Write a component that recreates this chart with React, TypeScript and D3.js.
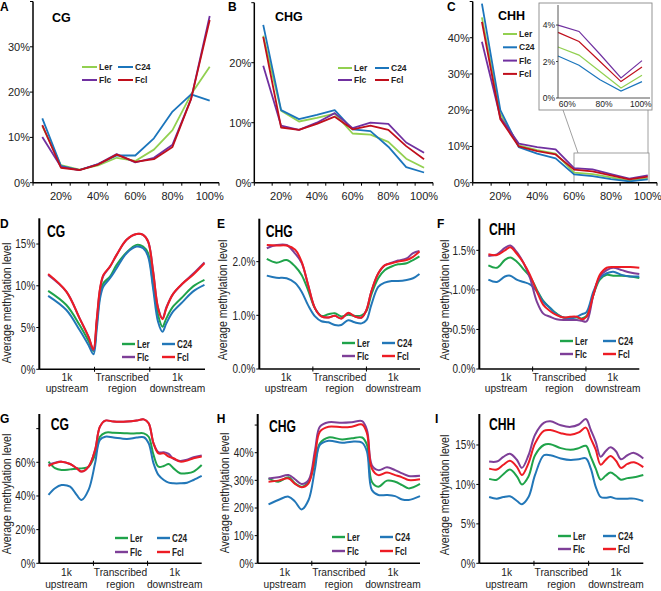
import React from "react";
import * as d3 from "d3";

const FONT = "'Liberation Sans', Arial, Helvetica, sans-serif";

const seriesNames = ["Ler", "C24", "Flc", "Fcl"];
const topColors = ["#92d050", "#1b75bc", "#7030a0", "#c00f1c"];
const profileColors = ["#1fa34a", "#2277b8", "#7e3f98", "#ed1c24"];

const contextCats = ["10%", "20%", "30%", "40%", "50%", "60%", "70%", "80%", "90%", "100%"];
const contextTickLabels = ["20%", "40%", "60%", "80%", "100%"];
const insetCats = ["60%", "70%", "80%", "90%", "100%"];
const insetTickLabels = ["60%", "80%", "100%"];
const regionTop = ["1k", "Transcribed", "1k"];
const regionBottom = ["upstream", "region", "downstream"];

// Panel A (CG, percentile of methylation)
const aLer = [12.5, 3.9, 2.9, 3.8, 5.5, 4.8, 7.3, 11.6, 19.5, 25.6];
const aC24 = [14.2, 3.7, 2.8, 4.1, 6.0, 6.0, 9.8, 15.7, 19.5, 18.1];
const aFlc = [10.1, 3.5, 2.8, 4.1, 6.3, 4.5, 5.5, 8.4, 18.5, 36.8];
const aFcl = [12.7, 3.3, 2.8, 4.0, 6.2, 4.6, 5.2, 7.9, 18.5, 35.9];

// Panel B (CHG)
const bLer = [24.5, 12.0, 10.2, 10.8, 11.5, 8.2, 8.0, 6.8, 4.0, 2.5];
const bC24 = [26.3, 12.1, 10.6, 11.3, 12.1, 8.9, 8.6, 6.0, 2.6, 1.7];
const bFlc = [19.5, 9.5, 8.8, 10.0, 11.6, 9.1, 10.0, 9.8, 6.7, 5.0];
const bFcl = [24.3, 9.2, 8.8, 9.8, 11.0, 8.9, 9.5, 8.8, 6.1, 3.9];

// Panel C (CHH)
const cLer = [45.6, 19.0, 10.3, 9.0, 8.0, 2.8, 2.35, 1.45, 0.55, 1.25];
const cC24 = [49.4, 20.0, 9.8, 8.0, 6.7, 2.3, 1.8, 1.0, 0.38, 0.9];
const cFlc = [38.9, 18.0, 10.8, 9.8, 9.2, 4.0, 3.65, 2.4, 1.1, 2.05];
const cFcl = [44.4, 17.5, 10.0, 8.7, 7.8, 3.6, 3.1, 2.0, 0.9, 1.7];

// Panel D (CG profile), positions in region units (0-1 upstream, 1-2 gene, 2-3 downstream)
const dPos = [0.16, 0.49, 0.73, 0.89, 0.98, 1.04, 1.1, 1.16, 1.28, 1.4, 1.58, 1.76, 1.88, 1.97, 2.06, 2.15, 2.23, 2.3, 2.42, 2.6, 2.78, 2.99];
const dLer = [9.4, 7.7, 5.3, 3.4, 2.2, 5.4, 8.9, 10.3, 11.1, 12.5, 14.0, 14.9, 14.7, 13.9, 10.1, 6.5, 5.1, 6.1, 7.5, 8.7, 9.9, 10.7];
const dC24 = [8.8, 7.1, 4.7, 2.9, 1.8, 4.8, 8.5, 9.9, 10.9, 12.1, 13.9, 14.7, 14.5, 13.5, 9.7, 5.7, 4.5, 5.5, 6.9, 8.1, 9.3, 10.1];
const dFlc = [11.3, 9.3, 6.1, 3.9, 2.3, 5.8, 9.6, 11.2, 12.3, 13.7, 15.5, 16.2, 16.1, 15.3, 11.8, 7.4, 6.1, 7.4, 9.0, 10.3, 11.4, 12.8];
const dFcl = [11.4, 9.3, 6.1, 3.9, 2.4, 6.0, 9.7, 11.3, 12.3, 13.7, 15.5, 16.2, 16.1, 15.3, 11.7, 7.3, 6.0, 7.3, 9.0, 10.3, 11.3, 12.7];

// Panel E (CHG profile)
const ePos = [0.14, 0.32, 0.51, 0.67, 0.79, 0.91, 1.04, 1.16, 1.29, 1.41, 1.53, 1.66, 1.78, 1.91, 2.0, 2.09, 2.22, 2.34, 2.47, 2.59, 2.75, 2.87, 2.99];
const eLer = [2.05, 1.98, 2.03, 1.91, 1.75, 1.47, 1.13, 0.99, 1.02, 1.04, 0.98, 1.01, 0.99, 1.0, 1.08, 1.38, 1.69, 1.84, 1.91, 1.95, 1.97, 2.03, 2.1];
const eC24 = [1.74, 1.7, 1.69, 1.6, 1.44, 1.19, 0.98, 0.89, 0.87, 0.82, 0.82, 0.91, 0.87, 0.85, 0.91, 1.19, 1.53, 1.61, 1.64, 1.64, 1.66, 1.69, 1.77];
const eFlc = [2.25, 2.31, 2.31, 2.15, 1.98, 1.57, 1.13, 0.98, 0.96, 0.99, 0.94, 1.04, 0.98, 0.96, 1.1, 1.44, 1.78, 1.93, 1.98, 2.02, 2.06, 2.16, 2.2];
const eFcl = [2.31, 2.3, 2.3, 2.22, 2.0, 1.57, 1.13, 0.98, 0.96, 0.99, 0.94, 1.05, 0.98, 0.96, 1.1, 1.44, 1.78, 1.93, 1.97, 2.0, 2.03, 2.09, 2.19];

// Panel F (CHH profile)
const fPos = [0.17, 0.33, 0.48, 0.58, 0.7, 0.83, 0.95, 1.08, 1.2, 1.33, 1.45, 1.58, 1.7, 1.83, 1.92, 2.01, 2.14, 2.26, 2.39, 2.51, 2.67, 2.83, 3.0];
const fLer = [1.31, 1.28, 1.38, 1.41, 1.36, 1.26, 1.17, 1.0, 0.86, 0.77, 0.7, 0.65, 0.65, 0.65, 0.64, 0.67, 0.94, 1.13, 1.19, 1.18, 1.18, 1.17, 1.15];
const fC24 = [1.13, 1.1, 1.17, 1.18, 1.13, 1.1, 1.07, 0.98, 0.85, 0.77, 0.69, 0.65, 0.64, 0.66, 0.69, 0.72, 0.98, 1.15, 1.21, 1.23, 1.19, 1.17, 1.17];
const fFlc = [1.43, 1.45, 1.53, 1.56, 1.48, 1.34, 1.15, 0.85, 0.7, 0.66, 0.63, 0.62, 0.62, 0.62, 0.61, 0.6, 0.94, 1.17, 1.25, 1.28, 1.25, 1.22, 1.2];
const fFcl = [1.45, 1.44, 1.5, 1.54, 1.46, 1.34, 1.19, 0.98, 0.81, 0.73, 0.68, 0.65, 0.66, 0.66, 0.63, 0.66, 0.94, 1.19, 1.28, 1.29, 1.29, 1.29, 1.28];

// Panel G (CG profile, methylated genes)
const gPos = [0.17, 0.29, 0.41, 0.57, 0.69, 0.78, 0.91, 1.03, 1.12, 1.22, 1.37, 1.62, 1.8, 1.93, 2.02, 2.11, 2.2, 2.3, 2.39, 2.48, 2.6, 2.73, 2.85, 3.0];
const gLer = [60.4, 56.5, 55.4, 55.8, 56.2, 56.4, 57.4, 64.4, 75.2, 77.6, 77.6, 77.2, 77.2, 77.2, 75.2, 64.4, 57.4, 57.8, 59.0, 56.4, 53.5, 53.5, 54.5, 58.4];
const gC24 = [40.6, 44.6, 46.5, 45.5, 40.6, 37.6, 43.6, 59.4, 73.3, 75.2, 74.7, 73.9, 74.7, 74.9, 71.3, 59.4, 52.5, 49.5, 47.9, 47.5, 47.5, 47.9, 49.5, 51.9];
const gFlc = [58.5, 59.8, 60.4, 59.0, 56.5, 54.5, 57.4, 67.3, 81.2, 84.8, 84.2, 84.2, 84.8, 85.5, 83.2, 71.3, 66.0, 66.0, 65.0, 62.0, 60.8, 61.5, 63.0, 64.0];
const gFcl = [57.8, 59.5, 60.4, 59.0, 56.5, 54.5, 57.4, 67.3, 81.2, 84.8, 84.2, 84.2, 84.8, 85.5, 83.2, 71.3, 65.3, 65.3, 63.4, 62.4, 60.4, 61.0, 62.4, 63.4];

// Panel H (CHG profile, methylated genes)
const hPos = [0.2, 0.38, 0.57, 0.69, 0.81, 0.94, 1.06, 1.15, 1.31, 1.56, 1.74, 1.93, 2.02, 2.11, 2.23, 2.39, 2.54, 2.67, 2.79, 3.0];
const hLer = [30.7, 29.5, 31.1, 28.9, 27.7, 29.5, 36.7, 43.4, 45.5, 44.8, 45.2, 45.5, 42.8, 29.5, 27.7, 29.9, 29.5, 28.3, 27.1, 28.7];
const hC24 = [21.3, 22.9, 24.1, 22.3, 19.5, 22.9, 34.3, 42.8, 44.3, 43.6, 44.0, 43.6, 40.4, 26.5, 24.7, 24.7, 24.3, 23.1, 22.9, 24.3];
const hFlc = [30.7, 31.1, 31.9, 30.4, 28.7, 30.1, 41.0, 49.4, 51.0, 50.8, 51.0, 51.4, 48.2, 35.5, 33.7, 34.7, 33.7, 32.5, 31.6, 31.7];
const hFcl = [29.5, 29.9, 30.7, 28.7, 27.5, 28.9, 39.2, 47.6, 49.4, 49.2, 49.4, 50.2, 47.0, 34.3, 31.9, 32.8, 31.9, 31.1, 30.1, 30.4];

// Panel I (CHH profile, methylated genes)
const iPos = [0.18, 0.32, 0.44, 0.56, 0.69, 0.78, 0.9, 1.02, 1.18, 1.3, 1.49, 1.67, 1.82, 1.95, 2.04, 2.13, 2.22, 2.31, 2.4, 2.5, 2.59, 2.71, 2.83, 3.0];
const iLer = [10.7, 10.6, 11.3, 11.9, 11.0, 10.0, 11.0, 13.7, 15.0, 15.1, 14.6, 14.4, 14.6, 14.9, 13.5, 12.0, 10.6, 11.1, 11.5, 11.1, 10.6, 10.8, 10.9, 11.2];
const iC24 = [8.4, 8.2, 8.4, 8.5, 7.9, 7.5, 8.4, 11.2, 13.7, 13.7, 13.3, 13.1, 13.2, 13.3, 12.0, 9.7, 8.4, 8.3, 8.4, 8.2, 8.2, 8.2, 8.2, 7.9];
const iFlc = [12.9, 12.9, 13.5, 13.9, 13.1, 12.1, 13.7, 16.3, 17.8, 18.0, 17.5, 17.3, 17.6, 18.3, 16.9, 15.4, 13.5, 14.2, 14.7, 14.2, 13.2, 13.7, 14.0, 13.3];
const iFcl = [12.0, 11.9, 12.5, 13.0, 12.2, 11.2, 12.7, 15.2, 16.8, 16.9, 16.5, 16.3, 16.6, 17.2, 15.8, 14.4, 12.5, 13.1, 13.6, 13.0, 12.1, 12.6, 12.8, 12.2];

const SQ = 0.8;

function Legend({ x, y, dx, dy, colors, len, sw, fs, squeeze, column }: any) {
  return (
    <g>
      {seriesNames.map((n, i) => {
        const col = column ? 0 : i % 2;
        const row = column ? i : Math.floor(i / 2);
        const lx = x + col * dx;
        const ly = y + row * dy;
        return (
          <g key={n}>
            <line x1={lx} x2={lx + len} y1={ly} y2={ly} stroke={colors[i]} strokeWidth={sw} />
            <text
              transform={`translate(${lx + len + 2},${ly}) scale(${squeeze},1)`}
              dy="0.35em"
              fontSize={fs}
              fontWeight="bold"
              fill="#222"
            >
              {n}
            </text>
          </g>
        );
      })}
    </g>
  );
}

function TopPanel(p: any) {
  const { letter, letterX, title, titleX, titleY, x0, x1, yMax, yTopPx, yTicks, yLabeled, series, children } = p;
  const y0 = 182.7;
  const x = d3.scaleBand<string>().domain(contextCats).range([x0, x1]);
  const bw = x.bandwidth();
  const y = d3.scaleLinear().domain([0, yMax]).range([y0, yTopPx]);
  const line = d3
    .line<number>()
    .x((_, i) => (x(contextCats[i]) as number) + bw / 2)
    .y((d) => y(d));
  return (
    <g>
      <text x={letterX} y={11} fontSize={12} fontWeight="bold">{letter}</text>
      <text x={titleX} y={titleY} fontSize={12.5} fontWeight="bold">{title}</text>
      {d3.range(contextCats.length + 1).map((i) => (
        <line key={"xt" + i} x1={x0 + i * x.step()} x2={x0 + i * x.step()} y1={y0} y2={y0 + 3} stroke="#000" strokeWidth={1} />
      ))}
      {contextTickLabels.map((l) => (
        <text key={l} x={(x(l) as number) + bw / 2} y={200} textAnchor="middle" fontSize={11} fill="#222">{l}</text>
      ))}
      {yTicks.map((t: number) => (
        <line key={"yt" + t} x1={x0 - 3} x2={x0} y1={y(t)} y2={y(t)} stroke="#000" strokeWidth={1} />
      ))}
      {yLabeled.map((t: number) => (
        <text key={"yl" + t} x={x0 - 3} y={y(t)} dy="0.35em" textAnchor="end" fontSize={11} fill="#222">{t}%</text>
      ))}
      {children}
      {series.map((s: number[], i: number) => (
        <path key={i} d={line(s) as string} fill="none" stroke={topColors[i]} strokeWidth={1.8} strokeLinejoin="round" />
      ))}
      <line x1={x0} x2={x0} y1={y0} y2={yTopPx} stroke="#000" strokeWidth={1.5} />
      <line x1={x0} x2={x1} y1={y0} y2={y0} stroke="#000" strokeWidth={1.5} />
      {p.legend}
    </g>
  );
}

function Inset() {
  const bx0 = 558, bx1 = 650, by0 = 98, byTop = 5;
  const xb = d3.scaleBand<string>().domain(insetCats).range([bx0, bx1]);
  const xp = d3.scalePoint<string>().domain(insetCats).range([bx0, 642]);
  const y = d3.scaleLinear().domain([0, 5.1]).range([by0, byTop]);
  const series = [cLer, cC24, cFlc, cFcl].map((s) => s.slice(5));
  const line = d3
    .line<number>()
    .x((_, i) => xp(insetCats[i]) as number)
    .y((d) => y(d));
  return (
    <g>
      <line x1={563} y1={110} x2={578} y2={153} stroke="#888" strokeWidth={0.8} />
      <line x1={648} y1={110} x2={648} y2={153} stroke="#888" strokeWidth={0.8} />
      <rect x={574} y={153} width={75} height={29.5} fill="none" stroke="#888" strokeWidth={0.8} />
      <rect x={539} y={3} width={113} height={107} fill="#fff" stroke="#888" strokeWidth={0.9} />
      {[0, 2, 4].map((t) => (
        <g key={t}>
          <line x1={bx0 - 2} x2={bx0} y1={y(t)} y2={y(t)} stroke="#444" />
          <text x={bx0 - 3} y={y(t)} dy="0.35em" textAnchor="end" fontSize={8.5} fill="#222">{t}%</text>
        </g>
      ))}
      {insetTickLabels.map((l) => (
        <text key={l} x={(xb(l) as number) + xb.bandwidth() / 2} y={107} textAnchor="middle" fontSize={8.5} fill="#222">{l}</text>
      ))}
      {series.map((s, i) => (
        <path key={i} d={line(s) as string} fill="none" stroke={topColors[i]} strokeWidth={1.2} />
      ))}
      <line x1={bx0} x2={bx0} y1={by0} y2={byTop} stroke="#444" strokeWidth={0.9} />
      <line x1={bx0} x2={bx1} y1={by0} y2={by0} stroke="#444" strokeWidth={0.9} />
    </g>
  );
}

function ProfilePanel(p: any) {
  const {
    letter, letterX, letterY, title, titleX, titleY, x0, x1, y0, yTop, yMax, yTicks, fmt, extraTicks,
    pos, series, legend, yTitleX, yTitleY, labY1,
  } = p;
  const x = d3.scaleLinear().domain([0, 3]).range([x0, x1]);
  const y = d3.scaleLinear().domain([0, yMax]).range([y0, yTop]);
  const line = d3
    .line<number>()
    .x((_, i) => x(pos[i]))
    .y((d) => y(d))
    .curve(d3.curveCatmullRom.alpha(0.5));
  return (
    <g>
      <text x={letterX} y={letterY} fontSize={12} fontWeight="bold">{letter}</text>
      <text transform={`translate(${titleX},${titleY}) scale(0.76,1)`} fontSize={16} fontWeight="bold">{title}</text>
      <text
        transform={`translate(${yTitleX},${yTitleY}) rotate(-90) scale(0.88,1)`}
        textAnchor="middle"
        dy="0.35em"
        fontSize={12}
        fill="#222"
      >
        Average methylation level
      </text>
      {yTicks.concat(extraTicks || []).map((t: number) => (
        <line key={"yt" + t} x1={x0 - 3} x2={x0} y1={y(t)} y2={y(t)} stroke="#000" strokeWidth={1} />
      ))}
      {yTicks.map((t: number) => (
        <text
          key={"yl" + t}
          transform={`translate(${x0 - 4},${y(t)}) scale(${SQ},1)`}
          dy="0.35em"
          textAnchor="end"
          fontSize={12.5}
          fill="#222"
        >
          {fmt(t)}
        </text>
      ))}
      {[1, 2].map((u) => (
        <line key={"xt" + u} x1={x(u)} x2={x(u)} y1={y0 - 2.5} y2={y0 + 2.5} stroke="#000" strokeWidth={1} />
      ))}
      {regionTop.map((l, i) => (
        <g key={"rl" + i}>
          <text x={x(i + 0.5)} y={labY1} textAnchor="middle" fontSize={10.2} fill="#222">{l}</text>
          <text x={x(i + 0.5)} y={labY1 + 11.6} textAnchor="middle" fontSize={10.2} fill="#222">{regionBottom[i]}</text>
        </g>
      ))}
      {series.map((s: number[], i: number) => (
        <path key={i} d={line(s) as string} fill="none" stroke={profileColors[i]} strokeWidth={2} strokeLinejoin="round" />
      ))}
      <line x1={x0} x2={x0} y1={y0} y2={yTop} stroke="#000" strokeWidth={2} />
      <line x1={x0} x2={x1} y1={y0} y2={y0} stroke="#000" strokeWidth={1.6} />
      {legend}
    </g>
  );
}

const pct = (t: number) => `${t}%`;
const pct1 = (t: number) => `${t.toFixed(1)}%`;

function ProfileLegend({ x, y, dx, dy }: any) {
  return <Legend x={x} y={y} dx={dx} dy={dy} colors={profileColors} len={13} sw={2.4} fs={10} squeeze={0.82} />;
}

export default function App() {
  return (
    <svg
      width={661}
      height={591}
      style={{ position: "absolute", left: 0, top: 0, background: "#fff" }}
      fontFamily={FONT}
    >
      <rect width={661} height={591} fill="#fff" />
      <TopPanel
        letter="A" letterX={0} title="CG" titleX={52} titleY={22}
        x0={33} x1={219} yMax={40} yTopPx={1.5}
        yTicks={[0, 10, 20, 30, 40]} yLabeled={[0, 10, 20, 30]}
        series={[aLer, aC24, aFlc, aFcl]}
        legend={<Legend x={82} y={67} dx={36} dy={13} colors={topColors} len={15} sw={2} fs={8.5} squeeze={1} />}
      />
      <TopPanel
        letter="B" letterX={228} title="CHG" titleX={275} titleY={21}
        x0={254.3} x1={433} yMax={30} yTopPx={2.7}
        yTicks={[0, 10, 20, 30]} yLabeled={[0, 10, 20]}
        series={[bLer, bC24, bFlc, bFcl]}
        legend={<Legend x={338} y={68} dx={37} dy={12} colors={topColors} len={14} sw={2} fs={8.5} squeeze={1} />}
      />
      <TopPanel
        letter="C" letterX={447} title="CHH" titleX={498} titleY={20}
        x0={472.7} x1={657} yMax={50} yTopPx={1.5}
        yTicks={[0, 10, 20, 30, 40, 50]} yLabeled={[0, 10, 20, 30, 40]}
        series={[cLer, cC24, cFlc, cFcl]}
        legend={<Legend x={503} y={34} dx={0} dy={13.3} colors={topColors} len={14} sw={2} fs={8.5} squeeze={1} column />}
      >
        <Inset />
      </TopPanel>

      <ProfilePanel
        letter="D" letterX={0} letterY={228} title="CG" titleX={47} titleY={236.7}
        x0={39.3} x1={205} y0={369.3} yTop={218.3} yMax={18.08} yTicks={[0, 5, 10, 15]} fmt={pct}
        pos={dPos} series={[dLer, dC24, dFlc, dFcl]}
        legend={<ProfileLegend x={122} y={344} dx={40} dy={13} />}
        yTitleX={7} yTitleY={303} labY1={380.5}
      />
      <ProfilePanel
        letter="E" letterX={217} letterY={228} title="CHG" titleX={265.7} titleY={236.7}
        x0={259.3} x1={420} y0={369} yTop={218.7} yMax={2.8} yTicks={[0, 1, 2]} fmt={pct1}
        pos={ePos} series={[eLer, eC24, eFlc, eFcl]}
        legend={<ProfileLegend x={342} y={343} dx={40} dy={13} />}
        yTitleX={223} yTitleY={300} labY1={380.5}
      />
      <ProfilePanel
        letter="F" letterX={437} letterY={228} title="CHH" titleX={489} titleY={235}
        x0={479.3} x1={639.3} y0={369} yTop={218.7} yMax={1.9} yTicks={[0, 0.5, 1, 1.5]} fmt={pct1}
        pos={fPos} series={[fLer, fC24, fFlc, fFcl]}
        legend={<ProfileLegend x={560} y={341} dx={43} dy={13} />}
        yTitleX={445} yTitleY={300} labY1={380.5}
      />
      <ProfilePanel
        letter="G" letterX={0} letterY={422.7} title="CG" titleX={50.7} titleY={430}
        x0={39.3} x1={201.7} y0={563.3} yTop={414} yMax={88.7} yTicks={[0, 20, 40, 60]} extraTicks={[80]} fmt={pct}
        pos={gPos} series={[gLer, gC24, gFlc, gFcl]}
        legend={<ProfileLegend x={115} y={538} dx={42} dy={14} />}
        yTitleX={7} yTitleY={494} labY1={576}
      />
      <ProfilePanel
        letter="H" letterX={216.7} letterY={422.7} title="CHG" titleX={269} titleY={431.7}
        x0={257.7} x1={420} y0={563.3} yTop={414} yMax={54} yTicks={[0, 10, 20, 30, 40]} extraTicks={[50]} fmt={pct}
        pos={hPos} series={[hLer, hC24, hFlc, hFcl]}
        legend={<ProfileLegend x={332} y={537} dx={48} dy={14} />}
        yTitleX={225} yTitleY={493} labY1={576}
      />
      <ProfilePanel
        letter="I" letterX={435} letterY={422.7} title="CHH" titleX={489} titleY={430}
        x0={479.3} x1={643.3} y0={563.3} yTop={414} yMax={18.93} yTicks={[0, 5, 10, 15]} fmt={pct}
        pos={iPos} series={[iLer, iC24, iFlc, iFcl]}
        legend={<ProfileLegend x={558} y={536} dx={45} dy={13} />}
        yTitleX={445} yTitleY={495} labY1={576}
      />
    </svg>
  );
}
